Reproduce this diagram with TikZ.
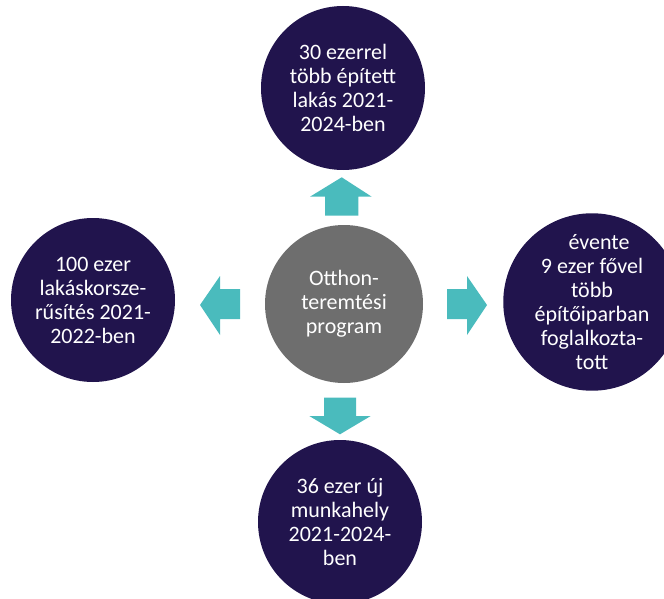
\documentclass[tikz,border=0pt]{standalone}
\usepackage{fontspec}
\setmainfont{Carlito}
\definecolor{navy}{RGB}{33,20,77}
\definecolor{midgray}{RGB}{110,110,110}
\definecolor{arrteal}{RGB}{74,187,189}
\begin{document}
\begin{tikzpicture}[x=1pt,y=1pt,
  bubble/.style={circle, fill=navy, text=white, align=center, inner sep=0pt,
    minimum size=164pt, font=\fontsize{22}{24}\selectfont},
  hub/.style={bubble, fill=midgray, minimum size=158pt},
  blockarrow/.style={fill=arrteal}]
\useasboundingbox (0,0) rectangle (664,-599);
\clip (0,0) rectangle (664,-599);
\node[bubble] (top) at (343,-88) {30 ezerrel\\több épített\\lakás 2021-\\2024-ben};
\node[bubble] (left) at (93,-300) {100 ezer\\lakáskorsze-\\rűsítés 2021-\\2022-ben};
\node[bubble, minimum size=160pt] (right) at (592,-302) {\hspace*{14pt}évente\\9 ezer fővel\\több\\építőiparban\\foglalkozta-\\tott};
\node[bubble] (bottom) at (340,-522) {36 ezer új\\munkahely\\2021-2024-\\ben};
\node[hub] (hub) at (344,-304) {Otthon-\\teremtési\\program};
% block arrows
\fill[blockarrow] (325,-215.7) -- (325,-196.7) -- (310,-196.7) -- (341.7,-177.3)
  -- (371.7,-196.7) -- (358.3,-196.7) -- (358.3,-215.7) -- cycle;
\fill[blockarrow] (324,-397.7) -- (356,-397.7) -- (356,-416) -- (370.7,-416)
  -- (340,-434.3) -- (309.3,-416) -- (324,-416) -- cycle;
\fill[blockarrow] (240,-289) -- (220,-289) -- (220,-276) -- (200,-305)
  -- (220,-335) -- (220,-319) -- (240,-319) -- cycle;
\fill[blockarrow] (447,-289) -- (467,-289) -- (467,-276) -- (487,-305)
  -- (467,-335) -- (467,-319) -- (447,-319) -- cycle;
\end{tikzpicture}
\end{document}
